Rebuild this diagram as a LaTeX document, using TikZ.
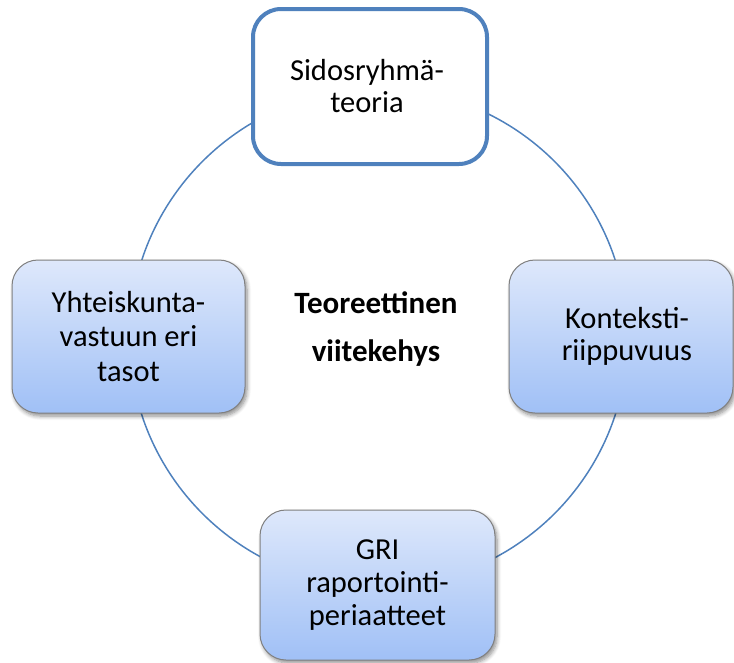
\documentclass[tikz,border=0pt]{standalone}
\usepackage{fontspec}
\setmainfont{Carlito}
\usetikzlibrary{shadows.blur}
\definecolor{accent}{RGB}{79,129,189}
\definecolor{gradtop}{RGB}{222,232,251}
\definecolor{gradbot}{RGB}{160,192,246}
\definecolor{boxline}{RGB}{128,128,128}
\begin{document}
\begin{tikzpicture}[x=1pt,y=-1pt,
  ring/.style={draw=accent,line width=1.5pt},
  stagebox/.style={rounded corners=26pt,draw=boxline,line width=1pt,
    top color=gradtop,bottom color=gradbot,
    blur shadow={shadow xshift=2pt,shadow yshift=-3pt,shadow blur radius=4pt,
      shadow blur steps=6,shadow opacity=45},
    align=center,font=\fontsize{30.5}{33}\selectfont},
  focusbox/.style={rounded corners=28pt,draw=accent,line width=4pt,fill=white,
    align=center,font=\fontsize{30.5}{32}\selectfont},
  boxtext/.style={align=center,font=\fontsize{30.5}{32}\selectfont},
  hubtext/.style={align=center,font=\fontsize{31}{48}\selectfont\bfseries}]
\useasboundingbox (0,0) rectangle (734,662);
% connecting ring
\draw[ring] (378.5,337.5) circle[radius=249];
% boxes around the ring
\node[stagebox,minimum width=233pt,minimum height=153pt,
  font=\fontsize{30.5}{34.5}\selectfont] (left) at (128.5,336.5)
  {Yhteiskunta-\\vastuun eri\\tasot};
\node[stagebox,minimum width=224pt,minimum height=153pt] (right) at (621,336.5) {};
\node[boxtext] (righttext) at (627,336.5) {Konteksti-\\riippuvuus};
\node[stagebox,minimum width=235pt,minimum height=150pt] (bottom) at (377.5,585)
  {GRI\\raportointi-\\periaatteet};
\node[focusbox,minimum width=234pt,minimum height=155pt] (top) at (370,86.5) {};
\node[boxtext] (toptext) at (367,86.5) {Sidosryhmä-\\teoria};
% centre label
\node[hubtext] (hub) at (376,329) {Teoreettinen\\viitekehys};
\end{tikzpicture}
\end{document}
